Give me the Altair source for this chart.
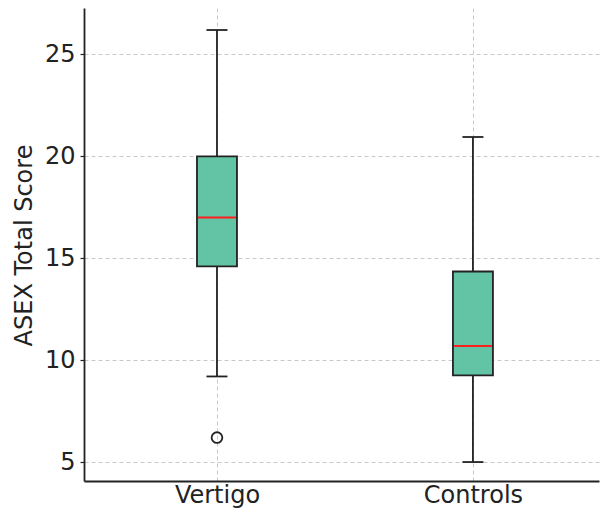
import altair as alt
import pandas as pd

groups = ["Vertigo", "Controls"]
whisker_low = [9.2, 5.0]
q1 = [14.6, 9.25]
median = [17.0, 10.7]
q3 = [20.0, 14.35]
whisker_high = [26.2, 20.95]
outlier_group = ["Vertigo"]
outlier_value = [6.2]

# categorical positions 1..n, as in a matplotlib boxplot
positions = [i + 1 for i in range(len(groups))]

box_df = pd.DataFrame({
    "group": groups,
    "pos": positions,
    "low": whisker_low,
    "q1": q1,
    "median": median,
    "q3": q3,
    "high": whisker_high,
})
out_df = pd.DataFrame({
    "group": outlier_group,
    "pos": [groups.index(g) + 1 for g in outlier_group],
    "value": outlier_value,
})

FONT = "DejaVu Sans"
DARK = "#222222"
LW = 1.8

label_expr = " : ".join(
    [f"datum.value == {p} ? '{g}'" for p, g in zip(positions[:-1], groups[:-1])]
    + [f"'{groups[-1]}'"]
)

x_enc = alt.X(
    "pos:Q",
    scale=alt.Scale(domain=[0.5, 2.473], nice=False, zero=False),
    axis=alt.Axis(
        title=None, values=positions, labelExpr=label_expr,
        labelAngle=0, labelFontSize=24, labelFont=FONT, labelColor=DARK,
        ticks=False, labelPadding=21, labelBaseline="alphabetic",
        grid=True, gridColor="#c8c8c8", gridDash=[4, 3], gridWidth=1,
        domainColor=DARK, domainWidth=LW,
    ),
)
y_scale = alt.Scale(domain=[4.07, 27.28], nice=False, zero=False)
y_axis = alt.Axis(
    title="ASEX Total Score", values=[5, 10, 15, 20, 25],
    labelFontSize=24, labelFont=FONT, labelColor=DARK, labelPadding=5,
    tickSize=4, tickColor=DARK, tickWidth=1.2,
    titleFontSize=24, titleFont=FONT, titleColor=DARK, titleFontWeight="normal",
    titleAngle=-90, titleX=-60, titleY=237, titleAlign="center", titleBaseline="middle",
    grid=True, gridColor="#c8c8c8", gridDash=[4, 3], gridWidth=1,
    domainColor=DARK, domainWidth=LW,
)

base = alt.Chart(box_df)

whisk_lo = base.mark_rule(color=DARK, strokeWidth=LW).encode(
    x=x_enc, y=alt.Y("low:Q", scale=y_scale, axis=y_axis), y2="q1:Q")
whisk_hi = base.mark_rule(color=DARK, strokeWidth=LW).encode(
    x=x_enc, y=alt.Y("q3:Q", scale=y_scale, axis=y_axis), y2="high:Q")
box = base.mark_bar(size=40, fill="#62c4a4", stroke=DARK, strokeWidth=LW, opacity=1).encode(
    x=x_enc, y=alt.Y("q1:Q", scale=y_scale, axis=y_axis), y2="q3:Q")
med = base.mark_tick(color="#ff1f1f", size=38, thickness=2, opacity=1,
                     orient="horizontal").encode(
    x=x_enc, y=alt.Y("median:Q", scale=y_scale, axis=y_axis))
cap_lo = base.mark_tick(color=DARK, size=21, thickness=LW, opacity=1,
                        orient="horizontal").encode(
    x=x_enc, y=alt.Y("low:Q", scale=y_scale, axis=y_axis))
cap_hi = base.mark_tick(color=DARK, size=21, thickness=LW, opacity=1,
                        orient="horizontal").encode(
    x=x_enc, y=alt.Y("high:Q", scale=y_scale, axis=y_axis))
outl = alt.Chart(out_df).mark_point(
    shape="circle", filled=False, size=115, stroke=DARK, strokeWidth=LW, opacity=1
).encode(x=x_enc, y=alt.Y("value:Q", scale=y_scale, axis=y_axis))

chart = alt.layer(whisk_lo, whisk_hi, box, med, cap_lo, cap_hi, outl).properties(
    width=515, height=473,
    autosize=alt.AutoSizeParams(type="none"),
    padding={"left": 76, "top": 0, "right": 1, "bottom": 28},
    background="white",
).configure_view(strokeWidth=0)

chart.save("out.html", embed_options={"renderer": "svg", "actions": False})
